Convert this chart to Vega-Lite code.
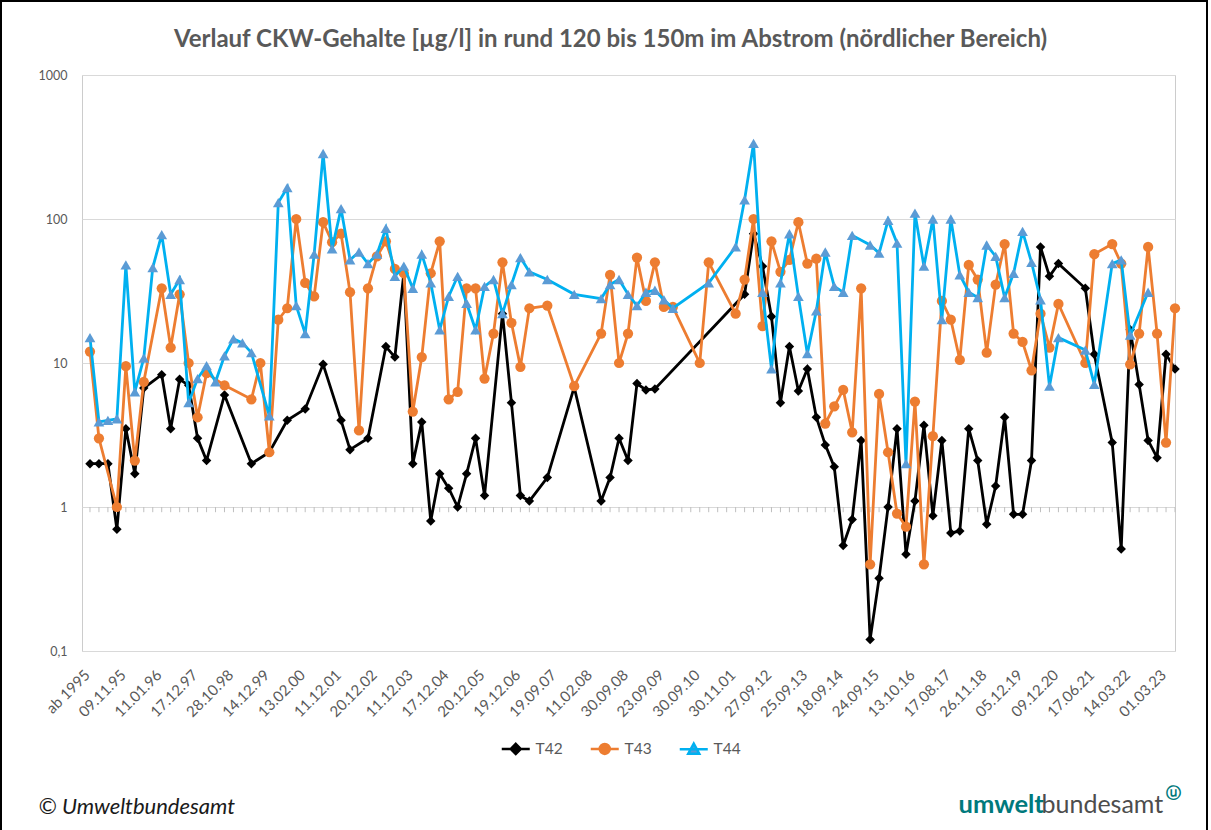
{
  "$schema": "https://vega.github.io/schema/vega-lite/v6.json",
  "width": 1093,
  "height": 576,
  "autosize": {"type": "none"},
  "padding": {"left": 82, "top": 75, "right": 36, "bottom": 179},
  "background": "white",
  "title": {"text": "Verlauf CKW-Gehalte [µg/l] in rund 120 bis 150m im Abstrom (nördlicher Bereich)", "anchor": "middle", "frame": "group", "dx": -18, "offset": -70, "baseline": "alphabetic", "font": "Lato", "fontSize": 24, "fontWeight": "bold", "color": "#595959"},
  "data": {"values": [
    {"i":0,"T42":2.0,"T43":12,"T44":15},
    {"i":1,"T42":2.0,"T43":3.0,"T44":3.9},
    {"i":2,"T42":2.0,"T43":null,"T44":4.0},
    {"i":3,"T42":0.7,"T43":1.0,"T44":4.1},
    {"i":4,"T42":3.5,"T43":9.5,"T44":48},
    {"i":5,"T42":1.7,"T43":2.1,"T44":6.3},
    {"i":6,"T42":6.7,"T43":7.4,"T44":10.8},
    {"i":7,"T42":null,"T43":null,"T44":46},
    {"i":8,"T42":8.3,"T43":33,"T44":78},
    {"i":9,"T42":3.5,"T43":12.8,"T44":30},
    {"i":10,"T42":7.7,"T43":30,"T44":38},
    {"i":11,"T42":7.0,"T43":10,"T44":5.3},
    {"i":12,"T42":3.0,"T43":4.2,"T44":7.8},
    {"i":13,"T42":2.1,"T43":8.5,"T44":9.6},
    {"i":14,"T42":null,"T43":null,"T44":7.4},
    {"i":15,"T42":6.0,"T43":7.0,"T44":11.2},
    {"i":16,"T42":null,"T43":null,"T44":14.7},
    {"i":17,"T42":null,"T43":null,"T44":13.8},
    {"i":18,"T42":2.0,"T43":5.6,"T44":11.8},
    {"i":19,"T42":null,"T43":10,"T44":null},
    {"i":20,"T42":2.4,"T43":2.4,"T44":4.3},
    {"i":21,"T42":null,"T43":20,"T44":130},
    {"i":22,"T42":4.0,"T43":24,"T44":165},
    {"i":23,"T42":null,"T43":100,"T44":25},
    {"i":24,"T42":4.8,"T43":36,"T44":16},
    {"i":25,"T42":null,"T43":29,"T44":57},
    {"i":26,"T42":9.8,"T43":95,"T44":285},
    {"i":27,"T42":null,"T43":69,"T44":62},
    {"i":28,"T42":4.0,"T43":79,"T44":118},
    {"i":29,"T42":2.5,"T43":31,"T44":52},
    {"i":30,"T42":null,"T43":3.4,"T44":59},
    {"i":31,"T42":3.0,"T43":33,"T44":49},
    {"i":32,"T42":null,"T43":55,"T44":57},
    {"i":33,"T42":13,"T43":70,"T44":86},
    {"i":34,"T42":11,"T43":45,"T44":40},
    {"i":35,"T42":42,"T43":42,"T44":47},
    {"i":36,"T42":2.0,"T43":4.6,"T44":33},
    {"i":37,"T42":3.9,"T43":11,"T44":57},
    {"i":38,"T42":0.8,"T43":42,"T44":36},
    {"i":39,"T42":1.7,"T43":70,"T44":17},
    {"i":40,"T42":1.35,"T43":5.6,"T44":29},
    {"i":41,"T42":1.0,"T43":6.3,"T44":40},
    {"i":42,"T42":1.7,"T43":33,"T44":26},
    {"i":43,"T42":3.0,"T43":33,"T44":17},
    {"i":44,"T42":1.2,"T43":7.8,"T44":34},
    {"i":45,"T42":null,"T43":16,"T44":38},
    {"i":46,"T42":22,"T43":50,"T44":22},
    {"i":47,"T42":5.3,"T43":19,"T44":35},
    {"i":48,"T42":1.2,"T43":9.4,"T44":54},
    {"i":49,"T42":1.1,"T43":24,"T44":43},
    {"i":50,"T42":null,"T43":null,"T44":null},
    {"i":51,"T42":1.6,"T43":25,"T44":38},
    {"i":52,"T42":null,"T43":null,"T44":null},
    {"i":53,"T42":null,"T43":null,"T44":null},
    {"i":54,"T42":6.8,"T43":6.9,"T44":30},
    {"i":55,"T42":null,"T43":null,"T44":null},
    {"i":56,"T42":null,"T43":null,"T44":null},
    {"i":57,"T42":1.1,"T43":16,"T44":28},
    {"i":58,"T42":1.6,"T43":41,"T44":35},
    {"i":59,"T42":3.0,"T43":10,"T44":38},
    {"i":60,"T42":2.1,"T43":16,"T44":30},
    {"i":61,"T42":7.2,"T43":54,"T44":25},
    {"i":62,"T42":6.5,"T43":27,"T44":31},
    {"i":63,"T42":6.6,"T43":50,"T44":32},
    {"i":64,"T42":null,"T43":24.5,"T44":27.5},
    {"i":65,"T42":null,"T43":24.5,"T44":24},
    {"i":66,"T42":null,"T43":null,"T44":null},
    {"i":67,"T42":null,"T43":null,"T44":null},
    {"i":68,"T42":null,"T43":10,"T44":null},
    {"i":69,"T42":null,"T43":50,"T44":36},
    {"i":70,"T42":null,"T43":null,"T44":null},
    {"i":71,"T42":null,"T43":null,"T44":null},
    {"i":72,"T42":null,"T43":22,"T44":64},
    {"i":73,"T42":30,"T43":38,"T44":136},
    {"i":74,"T42":79,"T43":100,"T44":335},
    {"i":75,"T42":47,"T43":18,"T44":31},
    {"i":76,"T42":21,"T43":70,"T44":9.1},
    {"i":77,"T42":5.3,"T43":43,"T44":36},
    {"i":78,"T42":13,"T43":52,"T44":79},
    {"i":79,"T42":6.4,"T43":95,"T44":29},
    {"i":80,"T42":9.1,"T43":49,"T44":11.6},
    {"i":81,"T42":4.2,"T43":53,"T44":23},
    {"i":82,"T42":2.7,"T43":3.8,"T44":59},
    {"i":83,"T42":1.9,"T43":5.0,"T44":34},
    {"i":84,"T42":0.54,"T43":6.5,"T44":31},
    {"i":85,"T42":0.82,"T43":3.3,"T44":77},
    {"i":86,"T42":2.9,"T43":33,"T44":null},
    {"i":87,"T42":0.12,"T43":0.4,"T44":66},
    {"i":88,"T42":0.32,"T43":6.1,"T44":58},
    {"i":89,"T42":1.0,"T43":2.4,"T44":98},
    {"i":90,"T42":3.5,"T43":0.9,"T44":68},
    {"i":91,"T42":0.47,"T43":0.73,"T44":2.0},
    {"i":92,"T42":1.1,"T43":5.4,"T44":110},
    {"i":93,"T42":3.7,"T43":0.4,"T44":47},
    {"i":94,"T42":0.87,"T43":3.1,"T44":100},
    {"i":95,"T42":2.9,"T43":27,"T44":20},
    {"i":96,"T42":0.66,"T43":20,"T44":100},
    {"i":97,"T42":0.68,"T43":10.5,"T44":41},
    {"i":98,"T42":3.5,"T43":48,"T44":31},
    {"i":99,"T42":2.1,"T43":38,"T44":28.5},
    {"i":100,"T42":0.76,"T43":11.8,"T44":66},
    {"i":101,"T42":1.4,"T43":35,"T44":55},
    {"i":102,"T42":4.2,"T43":67,"T44":28.5},
    {"i":103,"T42":0.89,"T43":16,"T44":42},
    {"i":104,"T42":0.89,"T43":14,"T44":82},
    {"i":105,"T42":2.1,"T43":8.9,"T44":50},
    {"i":106,"T42":64,"T43":22,"T44":27.5},
    {"i":107,"T42":40,"T43":12.8,"T44":6.9},
    {"i":108,"T42":49,"T43":25.7,"T44":15},
    {"i":109,"T42":null,"T43":null,"T44":null},
    {"i":110,"T42":null,"T43":null,"T44":null},
    {"i":111,"T42":33,"T43":10,"T44":12.3},
    {"i":112,"T42":11.5,"T43":57,"T44":7.1},
    {"i":113,"T42":null,"T43":null,"T44":null},
    {"i":114,"T42":2.8,"T43":67,"T44":49},
    {"i":115,"T42":0.51,"T43":49,"T44":52},
    {"i":116,"T42":17,"T43":9.8,"T44":15.6},
    {"i":117,"T42":7.1,"T43":16,"T44":null},
    {"i":118,"T42":2.9,"T43":64,"T44":31},
    {"i":119,"T42":2.2,"T43":16,"T44":null},
    {"i":120,"T42":11.5,"T43":2.8,"T44":null},
    {"i":121,"T42":9.1,"T43":24,"T44":null}
  ]},
  "resolve": {"axis": {"x": "independent", "y": "independent"}},
  "layer": [
    {
      "mark": {"type": "rule", "strokeWidth": 1},
      "encoding": {
        "x": {"field": "i", "type": "quantitative",
          "scale": {"domain": [-0.89, 121], "nice": false, "zero": false},
          "axis": {"values": [0,4,8,12,16,20,24,28,32,36,40,44,48,52,56,60,64,68,72,76,80,84,88,92,96,100,104,108,112,116,120],
            "labelExpr": "['ab 1995','09.11.95','11.01.96','17.12.97','28.10.98','14.12.99','13.02.00','11.12.01','20.12.02','11.12.03','17.12.04','20.12.05','19.12.06','19.09.07','11.02.08','30.09.08','23.09.09','30.09.10','30.11.01','27.09.12','25.09.13','18.09.14','24.09.15','13.10.16','17.08.17','26.11.18','05.12.19','09.12.20','17.06.21','14.03.22','01.03.23'][round(datum.value/4)]",
            "labelAngle": -45, "labelAlign": "right", "labelBaseline": "middle", "labelPadding": 21, "labelOffset": -3,
            "labelFont": "Lato", "labelFontSize": 15, "labelColor": "#595959",
            "ticks": false, "domain": false, "grid": false, "labelOverlap": false, "labelFlush": false, "labelBound": false,
            "title": "© Umweltbundesamt", "titleX": -44, "titleY": 162, "titleAlign": "left", "titleAnchor": "start", "titleBaseline": "alphabetic", "titleAngle": 0,
            "titleFont": "Lato", "titleFontStyle": "italic", "titleFontWeight": "normal", "titleFontSize": 22, "titleColor": "#1a1a1a"}},
        "y": {"datum": 1, "type": "quantitative",
          "scale": {"type": "log", "domain": [0.1, 1000], "nice": false},
          "axis": {"values": [0.1, 1, 10, 100, 1000],
            "labelExpr": "datum.value < 1 ? '0,1' : format(datum.value, 'd')",
            "grid": true, "gridColor": "#d9d9d9", "gridWidth": 1, "ticks": false, "domain": false, "labelPadding": 15, "labelFlush": false,
            "labelFont": "Lato", "labelFontSize": 12.5, "labelColor": "#595959",
            "title": "umwelt", "titleAngle": 0, "titleX": 876, "titleY": 737, "titleAlign": "left", "titleAnchor": "start", "titleBaseline": "alphabetic",
            "titleFont": "Lato", "titleFontSize": 25.5, "titleFontWeight": "bold", "titleColor": "#00797c"}},
        "y2": {"datum": 0.92},
        "color": {"field": "i", "type": "quantitative", "scale": {"range": ["#bfbfbf", "#bfbfbf"]},
          "legend": {"orient": "none", "legendX": -81, "legendY": -74, "direction": "horizontal", "gradientLength": 1206, "gradientThickness": 900,
            "gradientStrokeColor": "#000000", "gradientStrokeWidth": 2, "labelExpr": "''", "labelOpacity": 0, "title": null, "padding": 0,
            "encode": {"gradient": {"update": {"fillOpacity": {"value": 0}}}}}}
      }
    },
    {
      "transform": [{"filter": "datum.T42 != null"}],
      "mark": {"type": "line", "color": "#000000", "strokeWidth": 2.8},
      "encoding": {
        "x": {"field": "i", "type": "quantitative", "axis": null},
        "y": {"field": "T42", "type": "quantitative", "axis": null}
      }
    },
    {
      "transform": [{"filter": "datum.T42 != null"}],
      "mark": {"type": "point", "filled": true, "size": 90, "opacity": 1, "color": "#000000", "shape": "diamond"},
      "encoding": {
        "x": {"field": "i", "type": "quantitative", "axis": null},
        "y": {"field": "T42", "type": "quantitative", "axis": null}
      }
    },
    {
      "transform": [{"filter": "datum.T43 != null"}],
      "mark": {"type": "line", "color": "#ED7D31", "strokeWidth": 2.8},
      "encoding": {
        "x": {"field": "i", "type": "quantitative", "axis": null},
        "y": {"field": "T43", "type": "quantitative", "axis": null}
      }
    },
    {
      "transform": [{"filter": "datum.T43 != null"}],
      "mark": {"type": "point", "filled": true, "size": 105, "opacity": 1, "color": "#ED7D31", "shape": "circle"},
      "encoding": {
        "x": {"field": "i", "type": "quantitative", "axis": null},
        "y": {"field": "T43", "type": "quantitative", "axis": null}
      }
    },
    {
      "transform": [{"filter": "datum.T44 != null"}],
      "mark": {"type": "line", "color": "#00B0F0", "strokeWidth": 2.8},
      "encoding": {
        "x": {"field": "i", "type": "quantitative", "axis": null},
        "y": {"field": "T44", "type": "quantitative", "axis": null}
      }
    },
    {
      "transform": [{"filter": "datum.T44 != null"}],
      "mark": {"type": "point", "filled": true, "size": 115, "opacity": 1, "color": "#5B9BD5", "shape": "triangle-up"},
      "encoding": {
        "x": {"field": "i", "type": "quantitative",
          "axis": {"orient": "top", "labels": false, "ticks": false, "domain": false, "grid": false,
            "title": "ⓤ", "titleX": 1083, "titleY": 722, "titleAlign": "left", "titleAnchor": "start", "titleBaseline": "alphabetic", "titleAngle": 0,
            "titleFont": "DejaVu Sans", "titleFontSize": 15, "titleFontWeight": "bold", "titleColor": "#00797c"}},
        "y": {"field": "T44", "type": "quantitative",
          "axis": {"orient": "right", "labels": false, "ticks": false, "domain": false, "grid": false,
            "title": "bundesamt", "titleAngle": 0, "titleX": -134, "titleY": 737, "titleAlign": "left", "titleAnchor": "start", "titleBaseline": "alphabetic",
            "titleFont": "Lato", "titleFontSize": 25, "titleFontWeight": "normal", "titleColor": "#4d4d4d"}}
      }
    },
    {
      "transform": [{"filter": "false"}],
      "mark": {"type": "point", "filled": true, "opacity": 1},
      "encoding": {
        "x": {"field": "i", "type": "quantitative", "axis": null},
        "y": {"field": "T42", "type": "quantitative", "axis": null},
        "fill": {"datum": "T42", "type": "nominal",
          "scale": {"domain": ["T42", "T43", "T44"], "range": ["#000000", "#ED7D31", "#5B9BD5"]},
          "legend": {"title": null, "orient": "none", "legendX": 426, "legendY": 666, "direction": "horizontal", "symbolSize": 100, "symbolStrokeWidth": 2.5, "symbolOpacity": 1,
            "labelFont": "Lato", "labelFontSize": 15.5, "labelColor": "#595959", "columnPadding": 22, "padding": 0, "labelOffset": 12}},
        "stroke": {"datum": "T42", "type": "nominal",
          "scale": {"domain": ["T42", "T43", "T44"], "range": ["#000000", "#ED7D31", "#00B0F0"]},
          "legend": {"title": null, "orient": "none", "legendX": 426, "legendY": 666, "direction": "horizontal", "symbolSize": 100, "symbolStrokeWidth": 2.5, "symbolOpacity": 1,
            "labelFont": "Lato", "labelFontSize": 15.5, "labelColor": "#595959", "columnPadding": 22, "padding": 0, "labelOffset": 12}},
        "shape": {"datum": "T42", "type": "nominal",
          "scale": {"domain": ["T42", "T43", "T44"], "range": ["M-2.8,0L2.8,0M0,-1L1,0L0,1L-1,0Z", "M-2.8,0L2.8,0M1,0A1,1,0,1,1,-1,0A1,1,0,1,1,1,0Z", "M-2.8,0L2.8,0M0,-1.1L1.1,0.9L-1.1,0.9Z"]},
          "legend": {"title": null, "orient": "none", "legendX": 426, "legendY": 666, "direction": "horizontal", "symbolSize": 100, "symbolStrokeWidth": 2.5, "symbolOpacity": 1,
            "labelFont": "Lato", "labelFontSize": 15.5, "labelColor": "#595959", "columnPadding": 22, "padding": 0, "labelOffset": 12}}
      }
    }
  ],
  "config": {
    "font": "Lato",
    "view": {"stroke": "#cccccc", "strokeWidth": 1}
  }
}
